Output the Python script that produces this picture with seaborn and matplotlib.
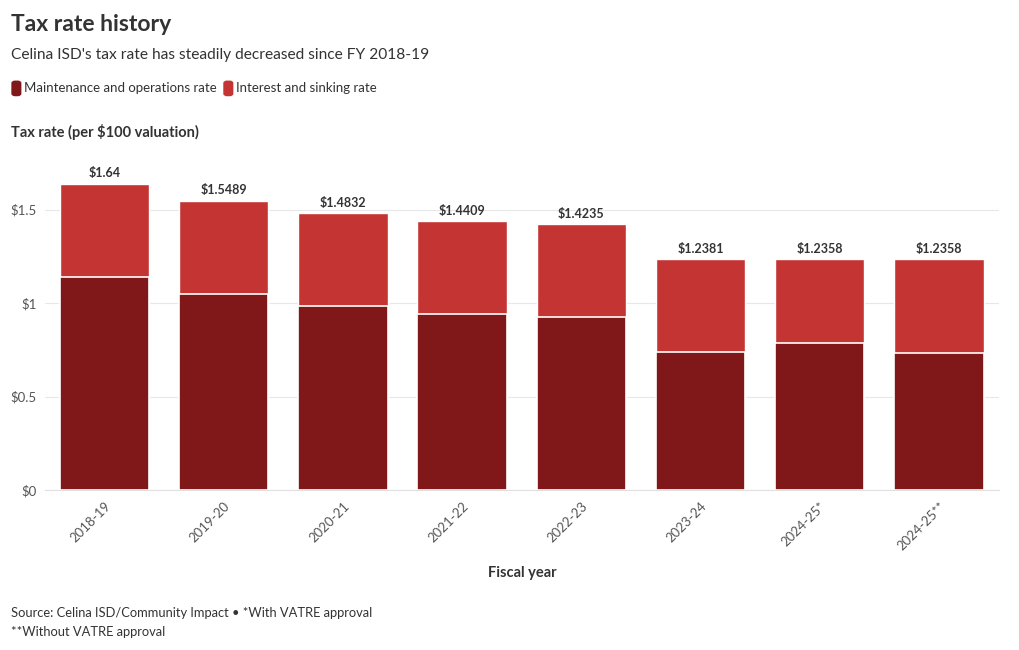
import pandas as pd
import seaborn as sns
from matplotlib import pyplot as plt
from matplotlib.patches import FancyBboxPatch

years = ["2018-19", "2019-20", "2020-21", "2021-22", "2022-23", "2023-24", "2024-25*", "2024-25**"]
mo_rate = [1.14, 1.0489, 0.9832, 0.9409, 0.9235, 0.7381, 0.7858, 0.7358]
is_rate = [0.50, 0.50, 0.50, 0.50, 0.50, 0.50, 0.45, 0.50]
total_labels = ["$1.64", "$1.5489", "$1.4832", "$1.4409", "$1.4235", "$1.2381", "$1.2358", "$1.2358"]

df = pd.DataFrame({"year": years, "mo": mo_rate, "is": is_rate})
df["total"] = df["mo"] + df["is"]

dark = "#801718"
red = "#c43433"
txt = "#333333"
grey = "#555555"

sns.set_style("white")
plt.rcParams["font.family"] = ["Lato", "DejaVu Sans"]

fig = plt.figure(figsize=(10.2, 6.5), dpi=100)
ax = fig.add_axes([0.0441, 0.2462, 0.9349, 0.503])

sns.barplot(data=df, x="year", y="total", color=red, saturation=1, width=0.75, ax=ax)
sns.barplot(data=df, x="year", y="mo", color=dark, saturation=1, width=0.75, ax=ax,
            edgecolor="white", linewidth=1.2)

for i, row in df.iterrows():
    ax.text(i, row["total"] + 0.022, total_labels[i], ha="center", va="bottom",
            fontsize=9, fontweight="bold", color=txt)

ax.set_xlim(-0.5, 7.5)
ax.set_ylim(0, 1.75)
ax.set_yticks([0, 0.5, 1, 1.5])
ax.set_yticklabels(["$0", "$0.5", "$1", "$1.5"])
ax.grid(axis="y", color="#e8e8e8", linewidth=0.8)
ax.set_axisbelow(True)
for s in ["top", "right", "left"]:
    ax.spines[s].set_visible(False)
ax.spines["bottom"].set_color("#e0e0e0")
ax.tick_params(axis="y", length=0, labelsize=9.5, labelcolor=grey, pad=6)
ax.tick_params(axis="x", length=5, color="#e0e0e0", labelsize=9.5, labelcolor=grey, pad=2)
plt.setp(ax.get_xticklabels(), rotation=45, ha="right", rotation_mode="anchor")
ax.set_xlabel("")
ax.set_ylabel("")

fig.text(0.0108, 0.962, "Tax rate history", fontsize=16.5, fontweight="bold", color=txt, va="center")
fig.text(0.0108, 0.916, "Celina ISD's tax rate has steadily decreased since FY 2018-19",
         fontsize=11.2, color=txt, va="center")

# legend
leg_y = 0.864
fig.patches.append(FancyBboxPatch((0.0118, leg_y - 0.011), 0.0085, 0.022,
                                  boxstyle="round,pad=0,rounding_size=0.003",
                                  transform=fig.transFigure, color=dark))
fig.text(0.0235, leg_y, "Maintenance and operations rate", fontsize=9.5, color=txt, va="center")
fig.patches.append(FancyBboxPatch((0.2196, leg_y - 0.011), 0.0085, 0.022,
                                  boxstyle="round,pad=0,rounding_size=0.003",
                                  transform=fig.transFigure, color=red))
fig.text(0.2314, leg_y, "Interest and sinking rate", fontsize=9.5, color=txt, va="center")

fig.text(0.0108, 0.797, "Tax rate (per $100 valuation)", fontsize=10.5, fontweight="bold",
         color=txt, va="center")
fig.text(0.512, 0.118, "Fiscal year", fontsize=10.5, fontweight="bold", color=txt,
         ha="center", va="center")
fig.text(0.0108, 0.043, "Source: Celina ISD/Community Impact \u2022 *With VATRE approval\n**Without VATRE approval",
         fontsize=9.3, color=txt, va="center", linespacing=1.7)

fig.savefig("out.png", dpi=100)
